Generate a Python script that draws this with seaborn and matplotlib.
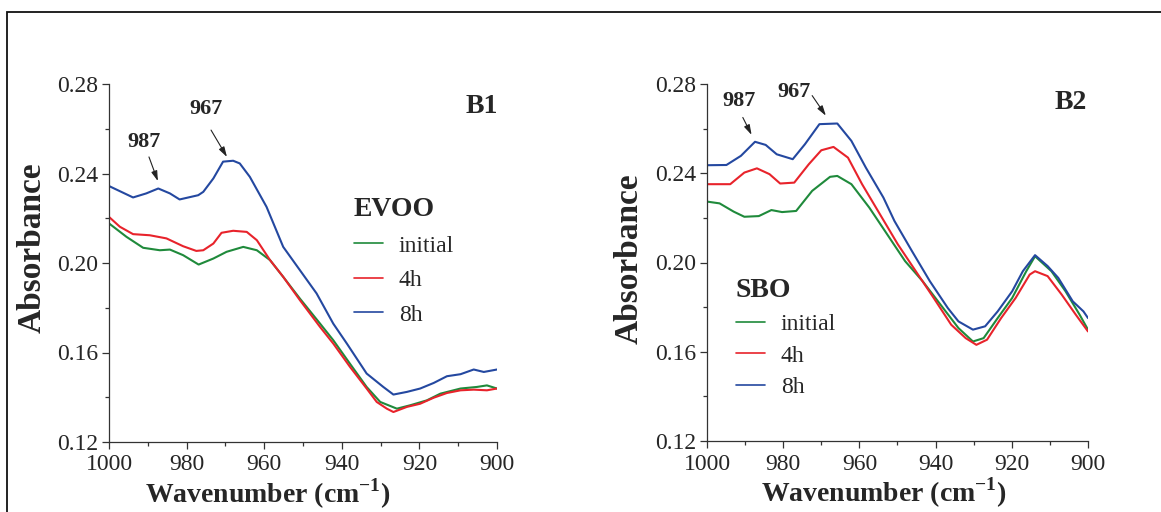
import numpy as np
import pandas as pd
import matplotlib
matplotlib.use("Agg")
import matplotlib.pyplot as plt
from matplotlib.patches import Rectangle
from matplotlib.ticker import MultipleLocator, FixedLocator
import seaborn as sns

# ---- EVOO (panel B1) ----
evoo_initial_x = [1000, 995.5, 991.2, 986.9, 984.3, 980.9, 976.9, 973.1, 969.7, 965.4, 961.9, 958.5,
                  955.1, 950.8, 945.6, 942.2, 937.9, 933.6, 930.1, 925.8, 922.4, 918.1, 914.6, 909.4,
                  905.2, 902.6, 900]
evoo_initial_y = [0.2177, 0.2117, 0.2068, 0.2057, 0.2060, 0.2035, 0.1993, 0.2020, 0.2050, 0.2072, 0.2057, 0.2013,
                  0.1938, 0.1841, 0.1729, 0.1655, 0.1550, 0.1446, 0.1379, 0.1349, 0.1364, 0.1386, 0.1416, 0.1439,
                  0.1446, 0.1453, 0.1439]

evoo_4h_x = [1000, 997.2, 993.8, 989.5, 985.2, 980.9, 977.5, 975.7, 973.1, 971.0, 968.0, 964.5, 961.9,
             958.5, 955.1, 950.8, 945.6, 942.2, 937.9, 933.6, 931.0, 928.4, 926.7, 923.2, 919.8, 916.3,
             912.9, 909.4, 906.0, 902.6, 900]
evoo_4h_y = [0.2206, 0.2162, 0.2129, 0.2124, 0.2110, 0.2075, 0.2054, 0.2057, 0.2087, 0.2135, 0.2144, 0.2139, 0.2102,
             0.2013, 0.1938, 0.1834, 0.1714, 0.1640, 0.1536, 0.1439, 0.1379, 0.1349, 0.1334, 0.1357, 0.1371, 0.1398,
             0.1419, 0.1431, 0.1434, 0.1431, 0.1439]

evoo_8h_x = [1000, 993.8, 990.4, 987.3, 984.3, 981.8, 977.0, 975.7, 973.1, 970.6, 968.0, 966.3, 963.7,
             959.4, 955.1, 950.8, 946.5, 942.2, 938.7, 933.6, 929.3, 926.7, 923.2, 919.8, 916.3, 912.9,
             909.4, 906.0, 903.4, 900]
evoo_8h_y = [0.2344, 0.2293, 0.2311, 0.2333, 0.2311, 0.2284, 0.2303, 0.2318, 0.2378, 0.2453, 0.2457, 0.2445, 0.2385,
             0.2251, 0.2072, 0.1968, 0.1864, 0.1729, 0.1640, 0.1506, 0.1446, 0.1412, 0.1424, 0.1439, 0.1464, 0.1494,
             0.1503, 0.1524, 0.1513, 0.1524]

# ---- SBO (panel B2) ----
sbo_initial_x = [1000, 996.7, 993.0, 990.2, 986.4, 983.1, 980.3, 976.6, 972.4, 967.7, 965.8, 962.1, 957.4,
                 952.7, 948.0, 943.4, 938.7, 934.0, 930.2, 927.4, 923.7, 919.9, 916.2, 913.9, 909.6, 905.9,
                 902.2, 900]
sbo_initial_y = [0.2273, 0.2265, 0.2228, 0.2205, 0.2208, 0.2235, 0.2226, 0.2231, 0.2321, 0.2384, 0.2388, 0.2351, 0.2246,
                 0.2126, 0.2006, 0.1916, 0.1811, 0.1706, 0.1646, 0.1661, 0.1751, 0.1841, 0.1961, 0.2028, 0.1961, 0.1871,
                 0.1766, 0.1699]

sbo_4h_x = [1000, 993.9, 990.2, 986.9, 983.6, 980.8, 977.1, 973.3, 970.0, 966.8, 963.0, 959.3, 954.6,
            949.9, 945.2, 940.5, 935.9, 932.1, 929.3, 926.5, 922.8, 919.0, 915.3, 913.9, 910.6, 906.9,
            903.2, 900]
sbo_4h_y = [0.2351, 0.2351, 0.2403, 0.2422, 0.2396, 0.2354, 0.2358, 0.2440, 0.2503, 0.2518, 0.2470, 0.2351, 0.2216,
            0.2081, 0.1961, 0.1841, 0.1721, 0.1661, 0.1631, 0.1654, 0.1751, 0.1841, 0.1946, 0.1961, 0.1939, 0.1856,
            0.1766, 0.1691]

sbo_8h_x = [1000, 994.9, 991.1, 987.4, 984.6, 981.7, 977.5, 974.3, 970.5, 965.8, 962.1, 958.3, 953.7,
            950.8, 946.2, 941.5, 936.8, 934.0, 930.2, 927.0, 923.7, 919.9, 917.1, 913.9, 910.6, 907.8,
            904.0, 901.2, 900]
sbo_8h_y = [0.2436, 0.2437, 0.2478, 0.2541, 0.2527, 0.2485, 0.2463, 0.2530, 0.2620, 0.2623, 0.2545, 0.2425, 0.2291,
            0.2186, 0.2051, 0.1916, 0.1796, 0.1736, 0.1699, 0.1714, 0.1781, 0.1871, 0.1961, 0.2033, 0.1984, 0.1931,
            0.1826, 0.1781, 0.1751]

time_labels = ["initial", "4h", "8h"]
panel_names = ["B1", "B2"]
oil_names = ["EVOO", "SBO"]
x_ticks = [1000, 980, 960, 940, 920, 900]
y_ticks = [0.12, 0.16, 0.20, 0.24, 0.28]
peak_labels = ["987", "967"]

palette = {"initial": "#1f8a3b", "4h": "#e8232b", "8h": "#2448a0"}


def long_frame(series):
    rows = []
    for label, (xs, ys) in zip(time_labels, series):
        rows.append(pd.DataFrame({"wavenumber": xs, "absorbance": ys, "time": label}))
    return pd.concat(rows, ignore_index=True)


evoo = long_frame([(evoo_initial_x, evoo_initial_y), (evoo_4h_x, evoo_4h_y), (evoo_8h_x, evoo_8h_y)])
sbo = long_frame([(sbo_initial_x, sbo_initial_y), (sbo_4h_x, sbo_4h_y), (sbo_8h_x, sbo_8h_y)])

sns.set_theme(style="ticks")
plt.rcParams["font.family"] = ["Liberation Serif", "DejaVu Serif"]
plt.rcParams["mathtext.fontset"] = "custom"
plt.rcParams["mathtext.rm"] = "Liberation Serif"
plt.rcParams["mathtext.bf"] = "Liberation Serif:bold"

fig = plt.figure(figsize=(11.61, 5.12), dpi=100)
W, H = 1161, 512

# axes boxes in pixel coordinates (left, right, top, bottom)
boxes = [(109, 497, 84, 442), (707, 1088, 84, 441)]
axes = []
for (l, r, t, b) in boxes:
    axes.append(fig.add_axes([l / W, 1 - b / H, (r - l) / W, (b - t) / H]))

datasets = [evoo, sbo]

# annotation positions: (text xy, arrow tail, arrow tip) in data coordinates
annots = [
    [((991.0, 0.2541), (989.7, 0.2474), (987.4, 0.2366)),
     ((975.0, 0.2688), (973.7, 0.2594), (969.6, 0.2474))],
    [((991.6, 0.2725), (990.6, 0.2650), (988.3, 0.2572)),
     ((977.2, 0.2766), (972.4, 0.2748), (968.8, 0.2658))],
]
panel_pos = [(0.961, 0.936), (0.955, 0.947)]
legend_anchor = [(0.631, 0.684), (0.076, 0.456)]
legend_spacing = [0.55, 0.43]
xlabel_x = [0.408, 0.465]
ylabel_pos = [(-0.157, 0.542), (-0.163, 0.51)]

for i, ax in enumerate(axes):
    sns.lineplot(data=datasets[i], x="wavenumber", y="absorbance", hue="time",
                 hue_order=time_labels, palette=palette, linewidth=1.5,
                 estimator=None, sort=False, ax=ax)
    ax.set_xlim(1000, 900)
    ax.set_ylim(0.12, 0.28)
    ax.xaxis.set_major_locator(FixedLocator(x_ticks))
    ax.xaxis.set_minor_locator(MultipleLocator(10))
    ax.yaxis.set_major_locator(FixedLocator(y_ticks))
    ax.yaxis.set_minor_locator(MultipleLocator(0.02))
    ax.set_xticklabels([str(v) for v in x_ticks])
    ax.set_yticklabels([f"{v:.2f}" for v in y_ticks])
    ax.tick_params(axis="both", which="major", direction="out", length=5, width=0.9,
                   labelsize=17, pad=3, color="#333333")
    ax.tick_params(axis="x", which="major", pad=4)
    ax.tick_params(axis="both", which="minor", direction="out", length=3, width=0.9, color="#333333")
    sns.despine(ax=ax)
    for s in ("left", "bottom"):
        ax.spines[s].set_linewidth(0.9)
        ax.spines[s].set_color("#333333")

    ax.set_xlabel(r"Wavenumber (cm$^{\mathbf{-1}}$)", fontsize=20, fontweight="bold")
    ax.xaxis.set_label_coords(xlabel_x[i], -0.097)
    ax.set_ylabel("Absorbance", fontsize=24, fontweight="bold")
    ax.yaxis.set_label_coords(*ylabel_pos[i])

    ax.text(*panel_pos[i], panel_names[i], transform=ax.transAxes, ha="center", va="center",
            fontsize=20, fontweight="bold")

    for label, (txy, tail, tip) in zip(peak_labels, annots[i]):
        ax.text(*txy, label, ha="center", va="center", fontsize=16, fontweight="bold")
        ax.annotate("", xy=tip, xytext=tail,
                    arrowprops=dict(arrowstyle="-|>,head_length=0.5,head_width=0.15",
                                    color="#222222", lw=0.8, shrinkA=0, shrinkB=0))

    sns.move_legend(ax, loc="upper left", bbox_to_anchor=legend_anchor[i], title=oil_names[i],
                    frameon=False, fontsize=17, borderpad=0, borderaxespad=0,
                    handlelength=1.25, handletextpad=0.65, labelspacing=legend_spacing[i])
    leg = ax.get_legend()
    leg.get_title().set_fontsize(20)
    leg.get_title().set_fontweight("bold")
    leg._legend_box.align = "left"
    for h in leg.legend_handles:
        h.set_linewidth(1.2)

# outer frame around the figure
fig.add_artist(Rectangle((6.5 / W, -0.2), 1.2, 1.2 - 11.5 / H, transform=fig.transFigure,
                         fill=False, edgecolor="#111111", linewidth=1.3))

fig.savefig("out.png", dpi=100, facecolor="white")
